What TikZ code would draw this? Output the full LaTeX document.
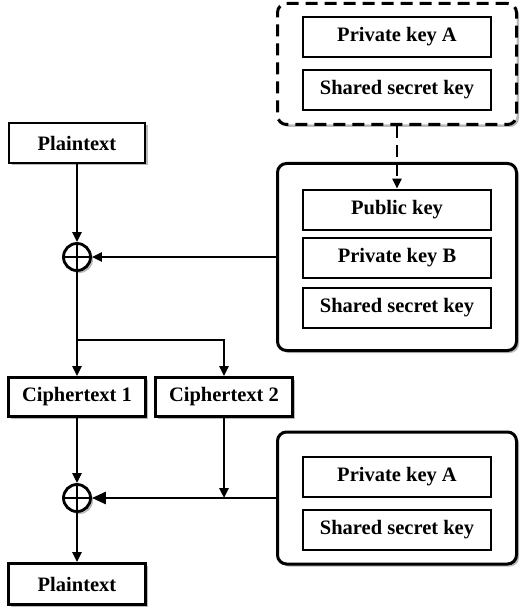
\documentclass[tikz,border=0pt]{standalone}
\usepackage{fontspec}
\setmainfont{Liberation Serif}
\usetikzlibrary{arrows.meta,shadows,calc}
\begin{document}
\begin{tikzpicture}[x=1pt,y=-1pt,
  shd/.style={drop shadow={shadow xshift=2.5pt,shadow yshift=-2.5pt,fill=black!45,opacity=0.6}},
  sqbox/.style={draw,line width=2.8pt,fill=white,minimum width=136pt,minimum height=40pt,inner sep=0pt,
     font=\fontsize{20.5}{24}\selectfont\bfseries,shd},
  keybox/.style={draw,line width=2.8pt,fill=white,minimum width=188pt,minimum height=40pt,inner sep=0pt,
     font=\fontsize{20.5}{24}\selectfont\bfseries},
  group/.style={draw,line width=3pt,fill=white,rounded corners=9pt,inner sep=0pt,shd},
  xorn/.style={draw,circle,line width=2.8pt,fill=white,minimum size=27pt,inner sep=0pt,shd,
     path picture={\draw[line width=2.4pt] (path picture bounding box.north) -- (path picture bounding box.south)
       (path picture bounding box.west) -- (path picture bounding box.east);}},
  conn/.style={line width=2.8pt,-{Triangle[length=10pt,width=9pt]}},
  line/.style={line width=2.8pt}
]
\useasboundingbox (0,0) rectangle (519,612);

% groups
\node[group,dashed,dash pattern=on 12pt off 7pt,minimum width=239pt,minimum height=121pt] (topg) at (397,64) {};
\node[group,minimum width=239pt,minimum height=187pt] (midg) at (397,257) {};
\node[group,minimum width=239pt,minimum height=132pt] (botg) at (397,498) {};

% key boxes
\node[keybox] (pkA1) at (397,37) {Private key A};
\node[keybox] (ssk1) at (397,90) {Shared secret key};
\node[keybox] (pub) at (397,210) {Public key};
\node[keybox] (pkB) at (397,258) {Private key B};
\node[keybox] (ssk2) at (397,308) {Shared secret key};
\node[keybox] (pkA2) at (397,477) {Private key A};
\node[keybox] (ssk3) at (397,530) {Shared secret key};

% left column
\node[sqbox] (pt1) at (77,143) {Plaintext};
\node[xorn] (x1) at (77,257) {};
\node[sqbox,minimum width=137pt,minimum height=39pt] (c1) at (77,397) {Ciphertext 1};
\node[sqbox,minimum width=137pt,minimum height=39pt] (c2) at (224,397) {Ciphertext 2};
\node[xorn] (x2) at (77,498) {};
\node[sqbox,minimum width=137pt,minimum height=41pt] (pt2) at (77,584) {Plaintext};

\coordinate (split) at (77,340);

% connectors
\draw[conn,dashed,dash pattern=on 12pt off 7pt] (topg.south) -- (pub.north);
\draw[conn] (pt1.south) -- (x1.north);
\draw[conn] (midg.west) -- (x1.east);
\draw[line] (x1.south) -- (split);
\draw[conn] (split) -- (c1.north);
\draw[conn] (split) -| (c2.north);
\draw[conn] (c1.south) -- (x2.north);
\draw[conn,-{Triangle[length=14pt,width=12pt]}] (botg.west) -- (x2.east);
\draw[conn] (c2.south) -- (c2.south |- x2);
\draw[conn] (x2.south) -- (pt2.north);
\end{tikzpicture}
\end{document}
